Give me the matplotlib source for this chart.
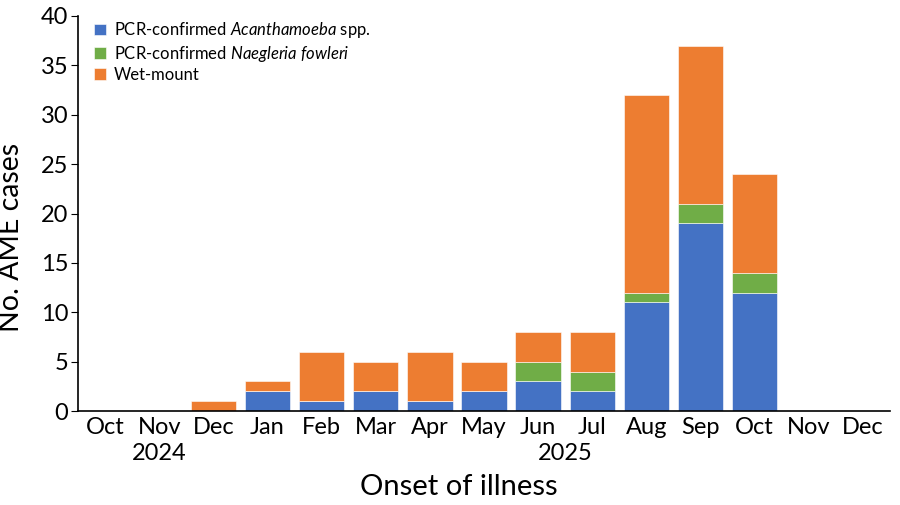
import numpy as np
import matplotlib.pyplot as plt
from matplotlib.transforms import blended_transform_factory

plt.rcParams['font.family'] = ['Lato', 'DejaVu Sans']
plt.rcParams['mathtext.fontset'] = 'custom'
plt.rcParams['mathtext.it'] = 'Lato:italic'
plt.rcParams['mathtext.rm'] = 'Lato'

months = ['Oct', 'Nov', 'Dec', 'Jan', 'Feb', 'Mar', 'Apr', 'May',
          'Jun', 'Jul', 'Aug', 'Sep', 'Oct', 'Nov', 'Dec']
acanth = [0, 0, 0, 2, 1, 2, 1, 2, 3, 2, 11, 19, 12, 0, 0]
naeg = [0, 0, 0, 0, 0, 0, 0, 0, 2, 2, 1, 2, 2, 0, 0]
wet = [0, 0, 1, 1, 5, 3, 5, 3, 3, 4, 20, 16, 10, 0, 0]
years = [(1, '2024'), (8.5, '2025')]

x = np.arange(len(months))
acanth = np.array(acanth)
naeg = np.array(naeg)
wet = np.array(wet)

fig = plt.figure(figsize=(9, 5.05), dpi=100)
ax = fig.add_axes([78/900, 1-411/505, (890-78)/900, (411-16)/505])

w = 0.84
ax.bar(x, acanth, w, color='#4472C4', edgecolor='white', linewidth=0.4,
       label='PCR-confirmed $\\it{Acanthamoeba}$ spp.')
ax.bar(x, naeg, w, bottom=acanth, color='#70AD47', edgecolor='white', linewidth=0.4,
       label='PCR-confirmed $\\it{Naegleria\\ fowleri}$')
ax.bar(x, wet, w, bottom=acanth + naeg, color='#ED7D31', edgecolor='white', linewidth=0.4,
       label='Wet-mount')

ax.set_xlim(-0.5, 14.5)
ax.set_ylim(0, 40)
ax.set_yticks(range(0, 41, 5))
ax.set_xticks(x)
ax.set_xticklabels(months)
ax.tick_params(axis='x', length=0, labelsize=17, pad=4)
ax.tick_params(axis='y', length=5, labelsize=17, pad=2, direction='out')
ax.spines['top'].set_visible(False)
ax.spines['right'].set_visible(False)
ax.spines['left'].set_linewidth(1.2)
ax.spines['bottom'].set_linewidth(1.2)

tr = blended_transform_factory(ax.transData, ax.transAxes)
for xp, yr in years:
    ax.text(xp, -0.08, yr, transform=tr, ha='center', va='top', fontsize=17)

ax.set_ylabel('No. AME cases', fontsize=20.5)
ax.set_xlabel('Onset of illness', fontsize=21)
ax.xaxis.set_label_coords(0.469, -0.16)
ax.yaxis.set_label_coords(-0.066, 0.44)

ax.legend(loc='upper left', bbox_to_anchor=(0.01, 1.01), frameon=False, fontsize=12,
          handlelength=0.7, handleheight=0.7, handletextpad=0.45, labelspacing=0.2,
          borderaxespad=0.1)

fig.savefig('out.png', dpi=100)
